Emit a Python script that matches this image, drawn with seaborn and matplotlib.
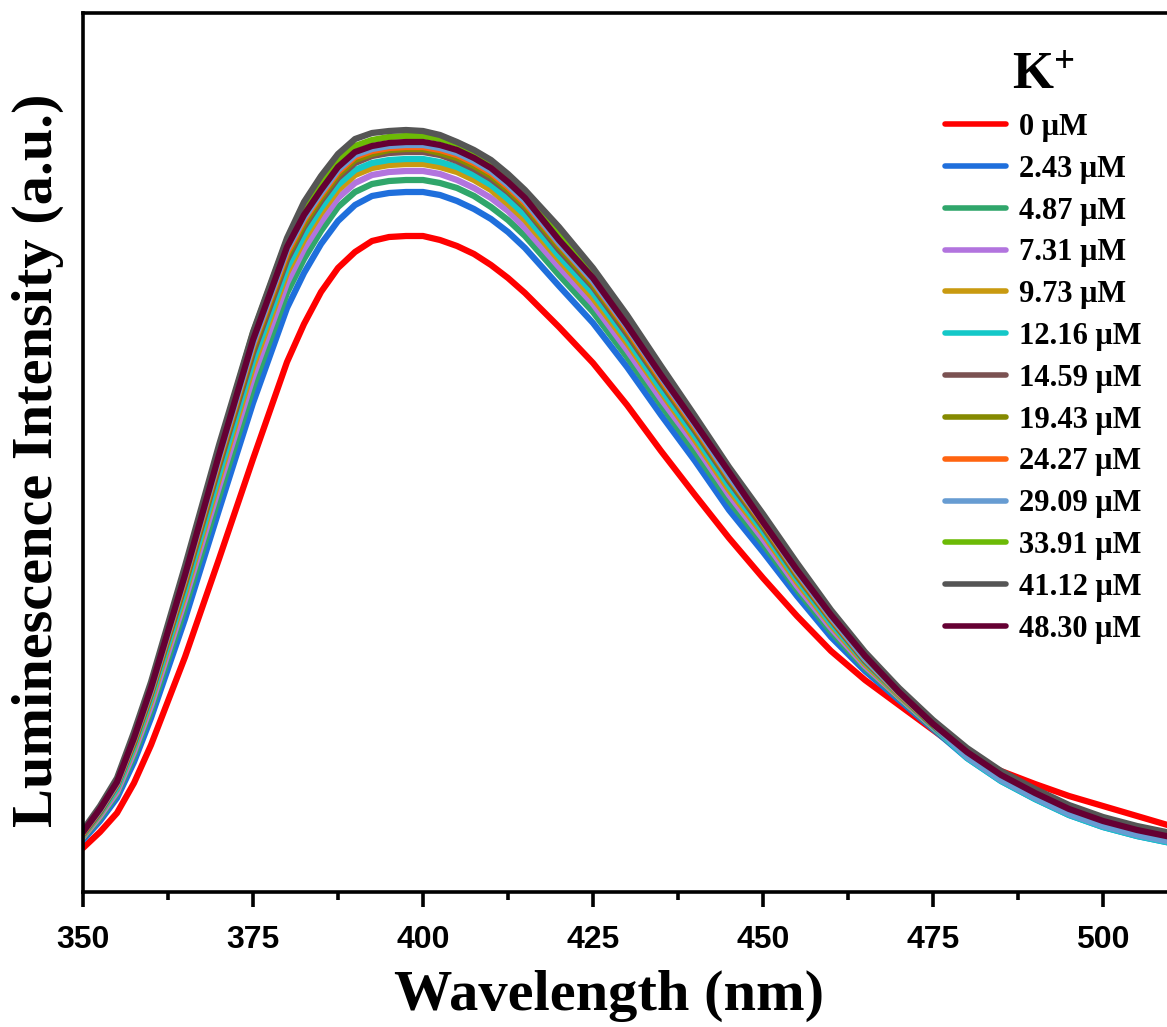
import numpy as np
import pandas as pd
import matplotlib
matplotlib.use("Agg")
import matplotlib.pyplot as plt
import seaborn as sns
from matplotlib.ticker import MultipleLocator
from matplotlib.font_manager import FontProperties

# Emission spectra of the probe during K+ titration (a.u.)
wavelength = [350, 352.5, 355, 357.5, 360, 365, 370, 375, 380, 382.5, 385, 387.5,
              390, 392.5, 395, 397.5, 400, 402.5, 405, 407.5, 410, 412.5, 415,
              420, 425, 430, 435, 440, 445, 450, 455, 460, 465, 470, 475, 480,
              485, 490, 495, 500, 505, 510]

conc_labels = ["0 μM", "2.43 μM", "4.87 μM", "7.31 μM", "9.73 μM", "12.16 μM",
               "14.59 μM", "19.43 μM", "24.27 μM", "29.09 μM", "33.91 μM",
               "41.12 μM", "48.30 μM"]

i_0 = [44, 60, 79, 109, 147, 235, 333, 433, 530, 568, 600, 624, 640, 651, 655, 656,
       656, 652, 646, 638, 627, 614, 599,
       565, 529, 487, 441, 397, 354, 314, 276, 241, 212, 187, 162, 137, 121, 108, 96,
       86, 76, 66]
i_243 = [52, 71, 94, 130, 174, 273, 382, 489, 584, 619, 648, 671, 687, 696, 699, 700,
         700, 697, 691, 683, 673, 660, 644,
         606, 569, 525, 477, 431, 382, 340, 296, 255, 221, 192, 163, 134, 111, 93, 77,
         65, 56, 49]
i_487 = [54, 74, 98, 136, 181, 284, 395, 504, 599, 633, 661, 685, 700, 708, 711, 712,
         712, 709, 704, 696, 685, 672, 656,
         617, 580, 535, 487, 440, 391, 348, 302, 260, 224, 194, 164, 135, 112, 94, 78,
         66, 57, 50]
i_731 = [55, 76, 100, 140, 186, 292, 405, 515, 609, 643, 670, 694, 709, 717, 720, 721,
         721, 718, 712, 704, 694, 681, 664,
         625, 588, 542, 493, 447, 397, 353, 306, 264, 226, 195, 165, 135, 112, 94, 78,
         66, 57, 50]
i_973 = [56, 78, 103, 144, 191, 298, 413, 525, 619, 652, 679, 702, 717, 724, 727, 728,
         728, 725, 720, 712, 702, 688, 672,
         632, 594, 549, 500, 452, 402, 358, 310, 267, 228, 196, 166, 136, 113, 95, 79,
         67, 58, 51]
i_1216 = [57, 79, 104, 146, 194, 302, 418, 531, 624, 657, 684, 707, 722, 729, 732, 733,
          733, 730, 725, 717, 707, 693, 677,
          636, 599, 553, 503, 456, 406, 361, 313, 269, 230, 197, 166, 134, 111, 93, 77,
          65, 56, 49]
i_1459 = [58, 80, 107, 149, 198, 308, 426, 539, 632, 665, 691, 714, 729, 736, 739, 740,
          740, 737, 731, 723, 713, 700, 684,
          642, 605, 558, 509, 461, 411, 365, 316, 272, 231, 198, 167, 137, 114, 96, 80,
          68, 59, 52]
i_1943 = [59, 81, 108, 150, 199, 310, 429, 543, 636, 668, 694, 717, 732, 738, 742, 743,
          743, 739, 734, 726, 716, 702, 686,
          645, 607, 561, 511, 463, 413, 367, 317, 273, 232, 198, 167, 138, 115, 97, 81,
          69, 60, 53]
i_2427 = [59, 82, 108, 152, 201, 313, 432, 546, 639, 672, 697, 720, 735, 741, 744, 745,
          745, 742, 737, 729, 719, 705, 689,
          648, 610, 563, 513, 465, 415, 369, 319, 274, 233, 198, 168, 137, 114, 96, 80,
          68, 59, 52]
i_2909 = [60, 82, 109, 153, 202, 315, 434, 548, 642, 674, 699, 722, 737, 743, 746, 747,
          747, 744, 739, 731, 721, 707, 691,
          649, 611, 565, 515, 467, 416, 370, 320, 275, 233, 199, 168, 135, 112, 94, 78,
          66, 57, 50]
i_3391 = [61, 84, 112, 157, 207, 322, 443, 559, 652, 684, 708, 731, 746, 752, 755, 756,
          756, 753, 748, 740, 730, 716, 700,
          657, 619, 572, 522, 473, 422, 376, 324, 278, 236, 200, 169, 142, 119, 101, 85,
          72, 63, 56]
i_4112 = [62, 86, 114, 160, 210, 326, 447, 560, 654, 690, 716, 738, 753, 759, 761, 762,
          761, 757, 750, 742, 732, 718, 702,
          665, 624, 577, 526, 476, 425, 378, 329, 282, 240, 204, 172, 144, 121, 103, 87,
          75, 66, 59]
i_4830 = [60, 83, 110, 154, 204, 317, 437, 552, 645, 677, 702, 725, 740, 746, 749, 750,
          750, 747, 742, 734, 724, 710, 694,
          652, 614, 567, 517, 469, 420, 370, 322, 277, 236, 200, 168, 140, 117, 99, 83,
          71, 62, 55]

spectra = [i_0, i_243, i_487, i_731, i_973, i_1216, i_1459, i_1943, i_2427,
           i_2909, i_3391, i_4112, i_4830]

line_colors = ["#FF0000", "#1F6FDC", "#30A66B", "#B274DE", "#C99A10", "#14C8C8",
               "#7B5252", "#858A00", "#FF6410", "#679CD2", "#6CBA06", "#555555",
               "#650033"]

# long-form table for seaborn
frames = []
for lab, vals in zip(conc_labels, spectra):
    frames.append(pd.DataFrame({"Wavelength": wavelength, "Intensity": vals,
                                "K+": lab}))
df = pd.concat(frames, ignore_index=True)

sns.set_style("white")
plt.rcParams.update({
    "font.family": ["Liberation Sans", "DejaVu Sans"],
    "font.weight": "bold",
    "text.color": "black",
    "axes.labelcolor": "black",
    "xtick.color": "black",
    "xtick.labelcolor": "black",
    "mathtext.fontset": "custom",
    "mathtext.rm": "Liberation Serif:bold",
    "mathtext.it": "Liberation Serif:italic:bold",
    "mathtext.bf": "Liberation Serif:bold",
    "axes.linewidth": 2.6,
    "axes.edgecolor": "black",
})

W, H = 1167, 1027
fig = plt.figure(figsize=(W / 100, H / 100), dpi=100)
x0, y_bot, y_top = 83, 892, 13
px_per_nm = 6.8
ax = fig.add_axes([x0 / W, 1 - y_bot / H, 170 * px_per_nm / W, (y_bot - y_top) / H])

sns.lineplot(data=df, x="Wavelength", y="Intensity", hue="K+",
             hue_order=conc_labels, palette=line_colors, linewidth=4.5,
             estimator=None, ax=ax, legend=True)
for ln in ax.lines:
    ln.set_solid_joinstyle("round")
    ln.set_solid_capstyle("round")

ax.set_xlim(350, 520)
ax.set_ylim(0, 879)
ax.xaxis.set_major_locator(MultipleLocator(25))
ax.xaxis.set_minor_locator(MultipleLocator(12.5))
ax.set_yticks([])
ax.tick_params(axis="x", which="both", bottom=True, top=False, direction="out",
               color="black", width=2.6)
ax.tick_params(axis="x", which="major", length=11, labelsize=23, pad=13)
ax.tick_params(axis="x", which="minor", length=5.5)
for spine in ax.spines.values():
    spine.set_visible(True)
    spine.set_linewidth(2.6)
    spine.set_color("black")

serif_bold = dict(fontfamily="Liberation Serif", fontweight="bold", fontsize=42,
                  color="black")
ax.set_xlabel("Wavelength (nm)", **serif_bold)
ax.set_ylabel("Luminescence Intensity (a.u.)", **serif_bold)
ax.xaxis.set_label_coords(0.455, -0.089)
ax.yaxis.set_label_coords(-0.0165, 0.491)

handles, labels = ax.get_legend_handles_labels()
for h in handles:
    h.set_linewidth(4.0)
    h.set_solid_capstyle("round")
leg = ax.legend(handles, labels, title="K$^{+}$", loc="upper left",
                bbox_to_anchor=(945 / W, 1 - 52 / H), bbox_transform=fig.transFigure,
                frameon=False,
                prop=FontProperties(family="Liberation Serif", weight="bold", size=22),
                title_fontproperties=FontProperties(family="Liberation Serif",
                                                    weight="bold", size=38),
                handlelength=2.0, handletextpad=0.42, labelspacing=0.42,
                borderpad=0, borderaxespad=0)
for t in leg.get_texts():
    t.set_color("black")
leg.get_title().set_color("black")

fig.savefig("out.png", dpi=100, facecolor="white")
